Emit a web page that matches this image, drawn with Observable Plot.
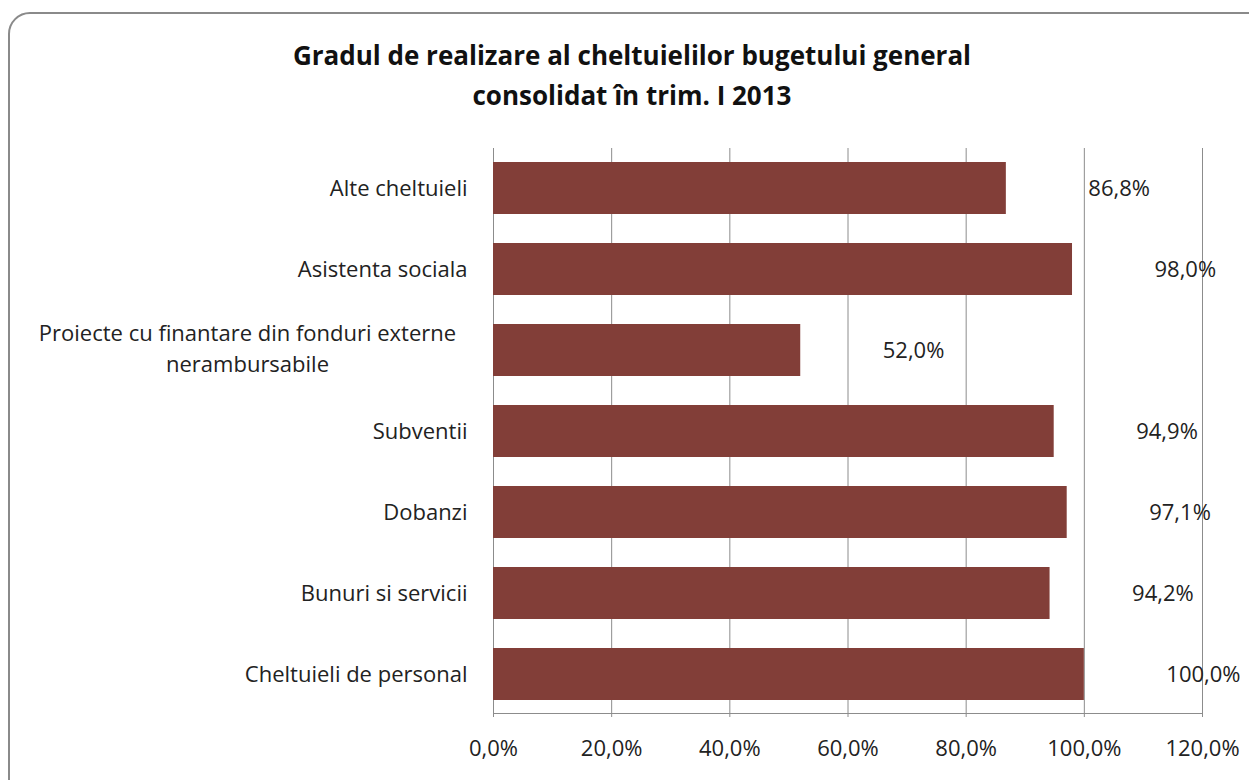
<!DOCTYPE html>
<html><head><meta charset="utf-8">
<script src="https://cdn.jsdelivr.net/npm/d3@7"></script>
<script src="https://cdn.jsdelivr.net/npm/@observablehq/plot@0.6"></script>
<style>
body{margin:0;background:#fff;font-family:"Open Sans",sans-serif;}
#wrap{position:relative;width:1249px;height:780px;overflow:hidden;}
#frame{position:absolute;left:8px;top:12px;width:1262px;height:790px;border:2px solid #8a8a8a;border-radius:22px;box-sizing:border-box;}
#title{position:absolute;top:35px;left:0;width:1264px;text-align:center;font-weight:700;font-size:26px;line-height:40px;color:#111;}
#chart{position:absolute;left:0;top:130px;}
</style></head><body>
<div id="wrap"><div id="frame"></div><div id="title">Gradul de realizare al cheltuielilor bugetului general<br>consolidat în trim. I 2013</div><div id="chart"></div></div>
<script>
const categories = [
  "Alte cheltuieli",
  "Asistenta sociala",
  "Proiecte cu finantare din fonduri externe nerambursabile",
  "Subventii",
  "Dobanzi",
  "Bunuri si servicii",
  "Cheltuieli de personal"
];
const values = [86.8, 98.0, 52.0, 94.9, 97.1, 94.2, 100.0];
const xTicks = [0, 20, 40, 60, 80, 100, 120];
const longLabel = categories[2];

const data = categories.map((c, i) => ({cat: c, value: values[i]}));
const fmt = v => v.toFixed(1).replace(".", ",") + "%";

const chart = Plot.plot({
  width: 1249,
  height: 650,
  marginTop: 18,
  marginBottom: 67,
  marginLeft: 493,
  marginRight: 47,
  style: {fontFamily: "'Open Sans', sans-serif", background: "transparent"},
  x: {domain: [0, 120], ticks: xTicks},
  y: {domain: categories, paddingInner: 0.36, paddingOuter: 0.15},
  marks: [
    Plot.gridX(xTicks, {stroke: "#8c8c8c", strokeOpacity: 1, strokeWidth: 1}),
    Plot.frame({anchor: "bottom", stroke: "#8c8c8c"}),
    Plot.barX(data, {x: "value", y: "cat", fill: "#823e38"}),
    Plot.axisX(xTicks, {tickFormat: fmt, tickSize: 4, tickPadding: 23, fontSize: 22, stroke: "#8c8c8c", fill: "#222", label: null}),
    Plot.axisY(categories.filter(c => c !== longLabel), {tickSize: 0, tickPadding: 26, fontSize: 22, fill: "#222", label: null}),
    Plot.text([longLabel], {y: d => d, x: () => 0, text: () => "Proiecte cu finantare din fonduri externe\nnerambursabile", textAnchor: "middle", dx: -246, dy: -4, fontSize: 22, lineHeight: 1.4, fill: "#222"}),
    Plot.text(data, {x: "value", y: "cat", text: d => fmt(d.value), dx: 82, textAnchor: "start", fontSize: 22, fill: "#222"})
  ]
});
document.getElementById("chart").appendChild(chart);
</script>
</body></html>
